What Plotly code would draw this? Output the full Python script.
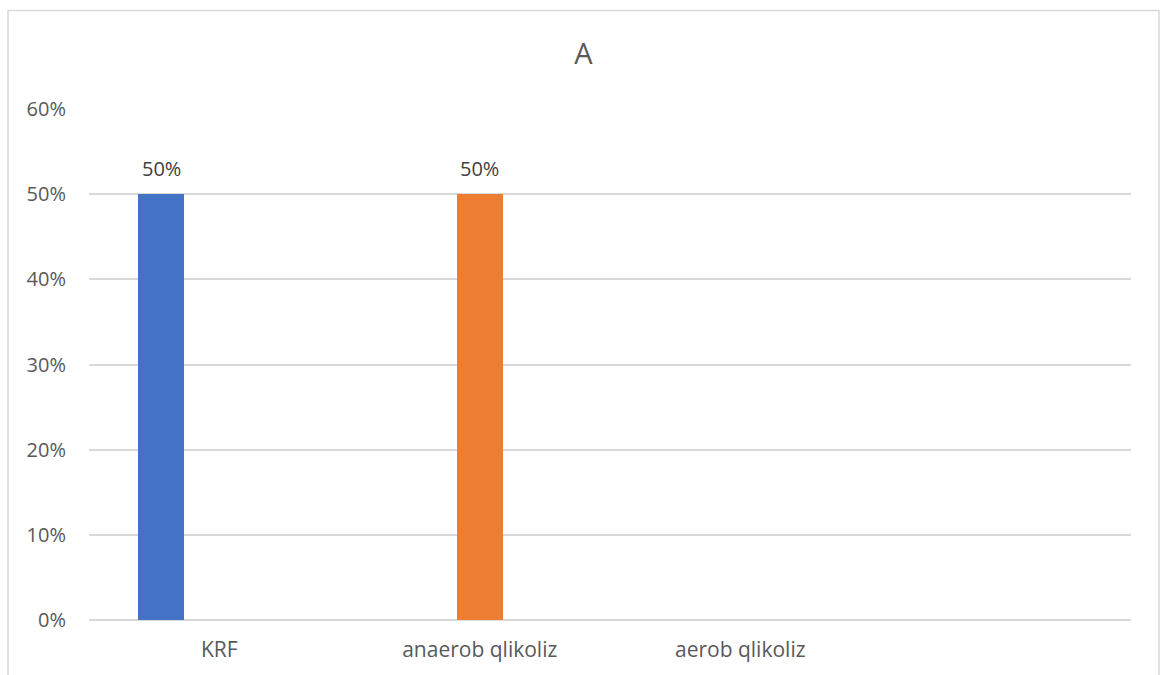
import plotly.graph_objects as go

# Category axis (the last slot is an unnamed, empty category)
categories = ["KRF", "anaerob qlikoliz", "aerob qlikoliz", " "]

# Series values (share of cases)
krf_values = [0.50]
anaerob_values = [0.50]

# Y axis ticks
y_ticks = [0.0, 0.1, 0.2, 0.3, 0.4, 0.5, 0.6]
y_tick_labels = ["0%", "10%", "20%", "30%", "40%", "50%", "60%"]

FONT = "Open Sans, Liberation Sans, sans-serif"
TEXT_COLOR = "#595959"
LABEL_COLOR = "#404040"
GRID_COLOR = "#d9d9d9"
BAR_WIDTH = 0.177

series = [
    # (category index, values, bar offset from category centre, colour)
    (0, krf_values, -0.311, "#4472c4"),
    (1, anaerob_values, -0.088, "#ed7d31"),
]

fig = go.Figure()
annotations = []
for idx, values, offset, color in series:
    fig.add_trace(go.Bar(
        x=[categories[idx]], y=values,
        width=BAR_WIDTH, offset=offset,
        marker=dict(color=color, line=dict(width=0)),
        showlegend=False, hoverinfo="y",
    ))
    for v in values:
        annotations.append(dict(
            x=idx + offset + BAR_WIDTH / 2, y=v, xref="x", yref="y",
            text=f"{v:.0%}", showarrow=False, yanchor="middle", yshift=26,
            font=dict(size=20, color=LABEL_COLOR, family=FONT),
        ))

# Chart-area border
fig.add_shape(type="rect", xref="paper", yref="paper",
              x0=-0.0777, x1=1.0269, y0=-0.13, y1=1.1926,
              line=dict(color=GRID_COLOR, width=1.5), fillcolor="rgba(0,0,0,0)",
              layer="below")

fig.update_layout(
    width=1160, height=675,
    margin=dict(l=89, r=29, t=108.5, b=55, autoexpand=False),
    paper_bgcolor="white", plot_bgcolor="white",
    font=dict(family=FONT, color=TEXT_COLOR, size=20),
    title=dict(text="A", x=583.5 / 1160, xanchor="center", xref="container",
               y=1 - 54 / 675, yref="container", yanchor="middle",
               font=dict(size=29, color=TEXT_COLOR, family=FONT)),
    annotations=annotations,
    bargap=0, barmode="overlay",
    xaxis=dict(
        type="category", categoryorder="array", categoryarray=categories,
        tickvals=categories, ticktext=categories,
        range=[-0.5, 3.5], showgrid=False, showline=False, zeroline=False,
        ticks="", ticklabelstandoff=15,
        tickfont=dict(size=21, color=TEXT_COLOR, family=FONT),
    ),
    yaxis=dict(
        range=[0, 0.6], tickvals=y_ticks, ticktext=y_tick_labels,
        showgrid=True, gridcolor=GRID_COLOR, gridwidth=1.5,
        zeroline=True, zerolinecolor=GRID_COLOR, zerolinewidth=1.5,
        showline=False, ticks="", ticklabelstandoff=22,
        tickfont=dict(size=20, color=TEXT_COLOR, family=FONT),
    ),
)

fig.write_html("out.html")
